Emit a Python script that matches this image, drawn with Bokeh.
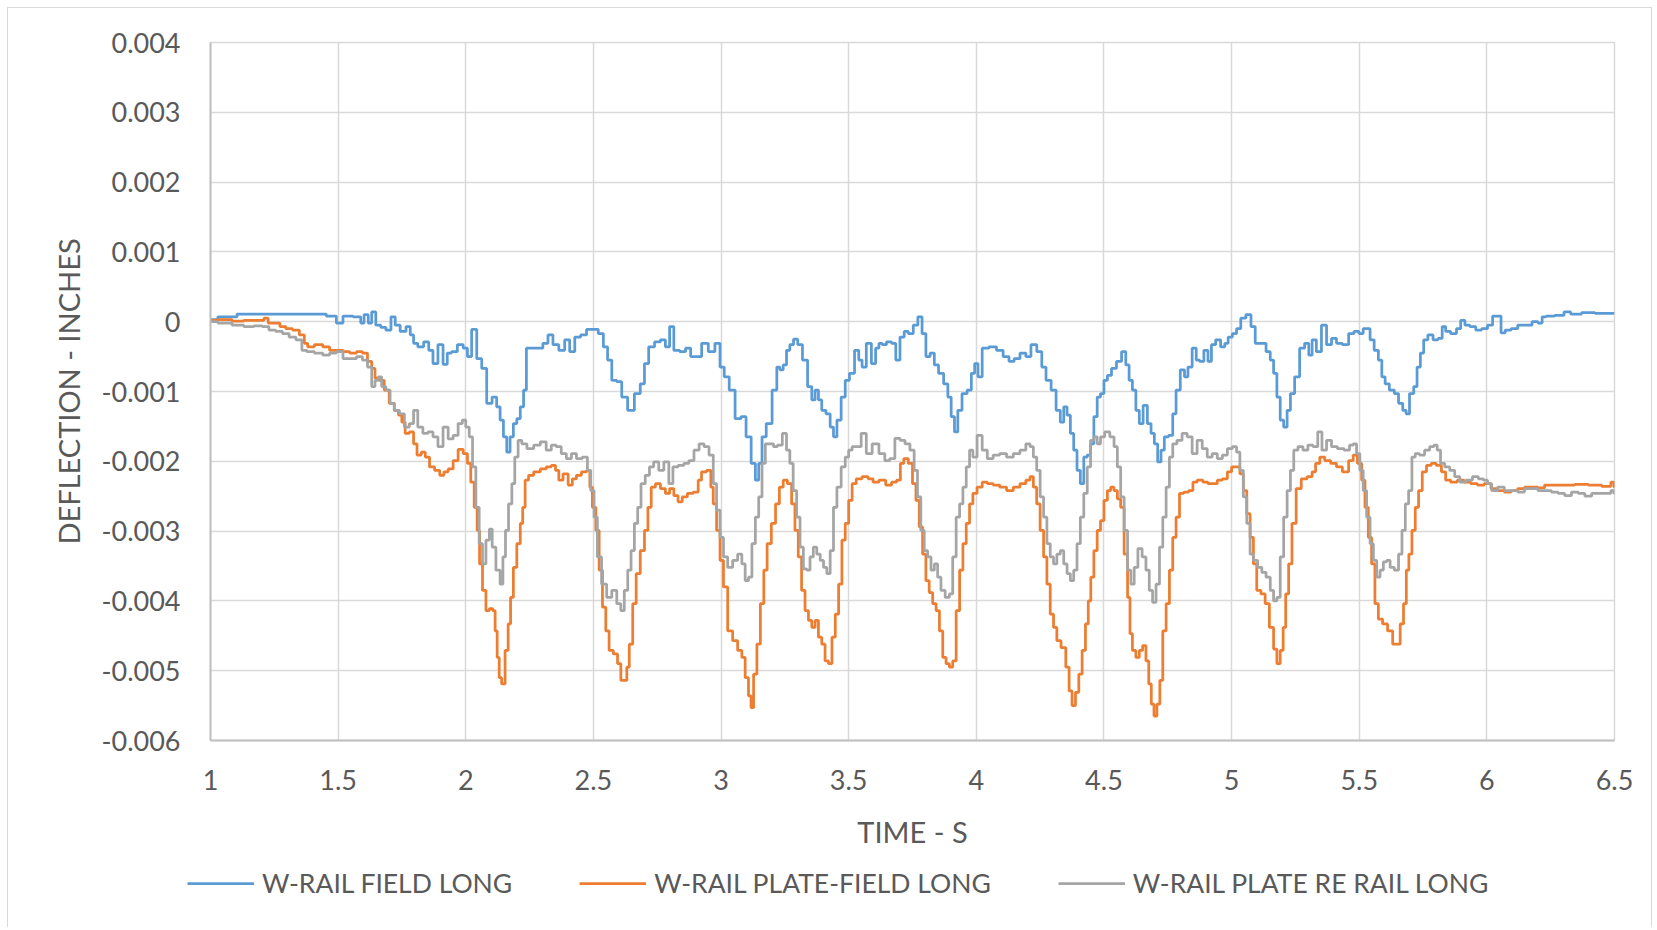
from bokeh.plotting import figure
from bokeh.layouts import column
from bokeh.models import Range1d, FixedTicker, NumeralTickFormatter, Legend, LegendItem, Spacer
from bokeh.embed import file_html
from bokeh.resources import INLINE

# ---------------- data (time in s, deflection in thousandths of an inch) ----------------
series_names = ["W-RAIL FIELD LONG", "W-RAIL PLATE-FIELD LONG", "W-RAIL PLATE RE RAIL LONG"]
series_colors = ["#5B9BD5", "#ED7D31", "#A5A5A5"]

x_ticks = [1, 1.5, 2, 2.5, 3, 3.5, 4, 4.5, 5, 5.5, 6, 6.5]
y_ticks = [0.004, 0.003, 0.002, 0.001, 0, -0.001, -0.002, -0.003, -0.004, -0.005, -0.006]

field_long = [
    (1.000, 0.03), (1.058, 0.07), (1.150, 0.11), (1.242, 0.11), (1.348, 0.11), (1.427, 0.11), (1.480, 0.08),
    (1.506, -0.02), (1.532, 0.08), (1.585, 0.07), (1.592, -0.02), (1.611, 0.10), (1.625, -0.02), (1.638, 0.14),
    (1.657, -0.05), (1.677, -0.08), (1.697, -0.12), (1.717, 0.07), (1.730, -0.05), (1.756, -0.14), (1.776, -0.07),
    (1.789, -0.19), (1.802, -0.31), (1.822, -0.36), (1.848, -0.29), (1.862, -0.41), (1.881, -0.60), (1.901, -0.33),
    (1.921, -0.61), (1.934, -0.45), (1.954, -0.43), (1.980, -0.33), (2.000, -0.38), (2.013, -0.50), (2.033, -0.11),
    (2.053, -0.53), (2.072, -0.67), (2.092, -1.17),
    (2.114, -1.08), (2.128, -1.22), (2.141, -1.41), (2.154, -1.65), (2.167, -1.87), (2.180, -1.65), (2.193, -1.46),
    (2.207, -1.39), (2.220, -1.22), (2.233, -0.98), (2.242, -0.38), (2.292, -0.38), (2.312, -0.31), (2.332, -0.19),
    (2.351, -0.33), (2.378, -0.41), (2.397, -0.26), (2.417, -0.43), (2.437, -0.22), (2.463, -0.19), (2.483, -0.11),
    (2.509, -0.11), (2.529, -0.17), (2.549, -0.36), (2.562, -0.55), (2.582, -0.84), (2.601, -0.86), (2.621, -1.08),
    (2.647, -1.27), (2.674, -1.03), (2.693, -0.89), (2.707, -0.60), (2.726, -0.36), (2.753, -0.29), (2.772, -0.26),
    (2.792, -0.36), (2.805, -0.07), (2.825, -0.41), (2.851, -0.43), (2.871, -0.38), (2.891, -0.50), (2.911, -0.50),
    (2.937, -0.31), (2.963, -0.43), (2.989, -0.31), (3.003, -0.65), (3.022, -0.79), (3.042, -0.98), (3.068, -1.39),
    (3.088, -1.36), (3.108, -1.65), (3.128, -2.03), (3.141, -2.27), (3.154, -2.03), (3.167, -1.65), (3.187, -1.46),
    (3.213, -0.98),
    (3.224, -0.65), (3.237, -0.69), (3.250, -0.62), (3.263, -0.41), (3.276, -0.33), (3.292, -0.25), (3.309, -0.33),
    (3.329, -0.55), (3.349, -0.93), (3.362, -1.12), (3.375, -0.98), (3.388, -1.12), (3.401, -1.27), (3.421, -1.32),
    (3.434, -1.51), (3.447, -1.65), (3.461, -1.41), (3.480, -1.08), (3.493, -0.84), (3.513, -0.74), (3.533, -0.41),
    (3.546, -0.55), (3.559, -0.65), (3.579, -0.31), (3.599, -0.60), (3.612, -0.38), (3.625, -0.31), (3.638, -0.33),
    (3.658, -0.29), (3.678, -0.31), (3.691, -0.55), (3.711, -0.22), (3.724, -0.14), (3.743, -0.17), (3.763, -0.05),
    (3.779, 0.07), (3.796, -0.17), (3.809, -0.50), (3.829, -0.45), (3.842, -0.62), (3.862, -0.74), (3.882, -0.89),
    (3.895, -1.08), (3.908, -1.36), (3.921, -1.58), (3.934, -1.27), (3.954, -1.03), (3.974, -0.98), (3.987, -0.74),
    (4.000, -0.60), (4.013, -0.79), (4.033, -0.38), (4.066, -0.36), (4.092, -0.41), (4.118, -0.50), (4.138, -0.57),
    (4.158, -0.53), (4.184, -0.45), (4.204, -0.50), (4.224, -0.33), (4.250, -0.43), (4.263, -0.65), (4.283, -0.84),
    (4.303, -0.98), (4.322, -1.27), (4.336, -1.44),
    (4.349, -1.22), (4.362, -1.34), (4.375, -1.60), (4.388, -1.84), (4.401, -2.13), (4.414, -2.32), (4.428, -1.94),
    (4.441, -1.91), (4.454, -1.75), (4.467, -1.36), (4.480, -1.08), (4.493, -1.03), (4.507, -0.84), (4.520, -0.77),
    (4.539, -0.67), (4.559, -0.57), (4.579, -0.43), (4.592, -0.62), (4.605, -0.84), (4.618, -0.98), (4.632, -1.27),
    (4.645, -1.46), (4.662, -1.20), (4.678, -1.46), (4.691, -1.60), (4.704, -1.75), (4.717, -2.01), (4.730, -1.84),
    (4.743, -1.65), (4.763, -1.63), (4.776, -1.32), (4.789, -0.98), (4.809, -0.69), (4.822, -0.79), (4.836, -0.65),
    (4.855, -0.38), (4.868, -0.55), (4.882, -0.57), (4.901, -0.41), (4.914, -0.57), (4.928, -0.33), (4.947, -0.26),
    (4.967, -0.36), (4.980, -0.31), (4.993, -0.22), (5.013, -0.17), (5.026, -0.10), (5.046, 0.05), (5.066, 0.10),
    (5.086, -0.07), (5.099, -0.31), (5.125, -0.31), (5.145, -0.43), (5.158, -0.55), (5.171, -0.74), (5.184, -1.08),
    (5.197, -1.41), (5.211, -1.51), (5.224, -1.27), (5.237, -1.03), (5.257, -0.79), (5.276, -0.38), (5.296, -0.31),
    (5.309, -0.48), (5.322, -0.26), (5.342, -0.43), (5.362, -0.05), (5.382, -0.33), (5.401, -0.24), (5.421, -0.31),
    (5.447, -0.33),
    (5.470, -0.17), (5.489, -0.14), (5.509, -0.17), (5.522, -0.10), (5.536, -0.10), (5.549, -0.26), (5.568, -0.41),
    (5.582, -0.55), (5.595, -0.79), (5.608, -0.89), (5.628, -0.98), (5.647, -1.03), (5.661, -1.17), (5.680, -1.27),
    (5.687, -1.32), (5.707, -1.03), (5.720, -0.93), (5.733, -0.65), (5.746, -0.45), (5.759, -0.26), (5.779, -0.19),
    (5.799, -0.26), (5.818, -0.24), (5.832, -0.07), (5.845, -0.14), (5.871, -0.17), (5.891, -0.10), (5.904, 0.02),
    (5.924, -0.05), (5.943, -0.07), (5.970, -0.12), (5.989, -0.10), (6.016, -0.05), (6.029, 0.08), (6.049, 0.08),
    (6.062, -0.16), (6.082, -0.12), (6.108, -0.10), (6.134, -0.05), (6.161, -0.05), (6.193, 0.00), (6.207, -0.02),
    (6.226, 0.07), (6.239, 0.08), (6.292, 0.09), (6.312, 0.14), (6.345, 0.11), (6.397, 0.13), (6.450, 0.12),
    (6.500, 0.12),
]

plate_field_long = [
    (1.000, 0.02), (1.058, 0.03), (1.111, 0.01), (1.150, 0.02), (1.203, 0.02), (1.216, 0.05), (1.236, -0.02),
    (1.262, -0.02), (1.282, -0.07), (1.308, -0.10), (1.335, -0.12), (1.361, -0.19), (1.374, -0.31), (1.387, -0.36),
    (1.427, -0.33), (1.453, -0.36), (1.480, -0.41), (1.506, -0.41), (1.532, -0.43), (1.559, -0.45), (1.585, -0.43),
    (1.605, -0.45), (1.625, -0.57), (1.638, -0.67), (1.651, -0.81), (1.671, -0.84), (1.690, -0.98), (1.710, -1.17),
    (1.730, -1.27), (1.743, -1.34), (1.756, -1.44), (1.769, -1.60), (1.789, -1.58), (1.802, -1.75), (1.816, -1.91),
    (1.835, -1.87), (1.848, -1.94), (1.868, -2.08), (1.888, -2.13), (1.908, -2.20), (1.921, -2.15), (1.941, -2.11),
    (1.960, -1.99), (1.980, -1.83), (2.000, -1.89), (2.013, -2.03), (2.026, -2.30), (2.040, -2.66), (2.049, -2.99),
    (2.059, -3.47), (2.072, -3.85), (2.086, -4.14), (2.099, -4.11), (2.112, -4.14),
    (2.118, -4.43), (2.128, -4.81), (2.134, -5.10), (2.147, -5.19), (2.161, -4.71), (2.171, -4.33), (2.180, -3.95),
    (2.193, -3.52), (2.207, -3.18), (2.220, -2.89), (2.226, -2.66), (2.239, -2.27), (2.253, -2.20), (2.279, -2.15),
    (2.305, -2.11), (2.325, -2.08), (2.345, -2.06), (2.358, -2.13), (2.371, -2.27), (2.391, -2.18), (2.411, -2.34),
    (2.424, -2.25), (2.443, -2.20), (2.463, -2.15), (2.483, -2.13), (2.489, -2.37), (2.503, -2.66), (2.516, -2.99),
    (2.529, -3.56), (2.542, -4.09), (2.555, -4.43), (2.568, -4.71), (2.588, -4.76), (2.601, -4.90), (2.614, -5.14),
    (2.628, -5.14), (2.634, -4.95), (2.647, -4.62), (2.661, -4.04), (2.674, -3.61), (2.693, -3.28), (2.707, -2.99),
    (2.720, -2.66), (2.733, -2.37), (2.753, -2.32), (2.772, -2.39), (2.792, -2.46), (2.805, -2.39), (2.825, -2.49),
    (2.838, -2.58), (2.858, -2.51), (2.878, -2.46), (2.904, -2.44), (2.917, -2.27), (2.930, -2.15), (2.957, -2.13),
    (2.963, -2.37), (2.976, -2.61), (2.989, -2.99), (3.003, -3.42), (3.016, -3.80), (3.036, -4.43), (3.055, -4.57),
    (3.075, -4.71), (3.088, -4.81), (3.101, -5.10), (3.114, -5.36), (3.121, -5.53), (3.134, -5.05), (3.147, -4.62),
    (3.161, -4.04), (3.174, -3.56), (3.187, -3.18), (3.207, -2.89), (3.220, -2.61),
    (3.237, -2.37), (3.250, -2.27), (3.270, -2.32), (3.283, -2.61), (3.296, -2.99), (3.309, -3.37), (3.322, -3.85),
    (3.336, -4.14), (3.349, -4.28), (3.362, -4.38), (3.375, -4.28), (3.388, -4.52), (3.401, -4.62), (3.414, -4.86),
    (3.428, -4.90), (3.441, -4.52), (3.454, -4.19), (3.467, -3.76), (3.480, -3.13), (3.493, -2.89), (3.507, -2.56),
    (3.520, -2.32), (3.539, -2.25), (3.566, -2.22), (3.586, -2.25), (3.605, -2.30), (3.632, -2.27), (3.658, -2.34),
    (3.678, -2.30), (3.697, -2.27), (3.708, -2.03), (3.724, -1.96), (3.743, -2.03), (3.757, -2.32), (3.770, -2.56),
    (3.783, -2.94), (3.796, -3.33), (3.809, -3.71), (3.822, -3.88), (3.836, -4.04), (3.849, -4.14), (3.862, -4.43),
    (3.875, -4.81), (3.888, -4.90), (3.901, -4.95), (3.914, -4.86), (3.928, -4.14), (3.941, -3.56), (3.954, -3.18),
    (3.967, -2.89), (3.980, -2.61), (3.993, -2.46), (4.013, -2.37), (4.033, -2.30), (4.053, -2.32), (4.079, -2.34),
    (4.105, -2.37), (4.132, -2.42), (4.158, -2.37), (4.184, -2.32), (4.204, -2.27), (4.217, -2.22), (4.230, -2.37),
    (4.243, -2.61), (4.257, -2.99), (4.270, -3.37), (4.283, -3.76), (4.296, -4.19), (4.309, -4.38), (4.322, -4.57),
    (4.342, -4.67),
    (4.359, -4.95), (4.368, -5.29), (4.382, -5.50), (4.395, -5.31), (4.408, -5.05), (4.421, -4.71), (4.434, -4.33),
    (4.443, -4.00), (4.454, -3.66), (4.467, -3.28), (4.480, -2.99), (4.493, -2.85), (4.507, -2.56), (4.520, -2.42),
    (4.533, -2.37), (4.546, -2.42), (4.559, -2.54), (4.572, -2.66), (4.586, -3.33), (4.599, -3.95), (4.605, -4.47),
    (4.618, -4.71), (4.632, -4.81), (4.645, -4.71), (4.658, -4.64), (4.671, -4.86), (4.680, -5.19), (4.691, -5.48),
    (4.701, -5.65), (4.714, -5.48), (4.724, -5.14), (4.737, -4.43), (4.750, -4.04), (4.763, -3.56), (4.776, -3.09),
    (4.789, -2.80), (4.803, -2.46), (4.822, -2.44), (4.842, -2.42), (4.855, -2.30), (4.875, -2.27), (4.901, -2.30),
    (4.914, -2.32), (4.934, -2.32), (4.954, -2.27), (4.974, -2.25), (4.993, -2.15), (5.007, -2.08), (5.026, -2.08),
    (5.039, -2.18), (5.053, -2.42), (5.066, -2.75), (5.079, -3.09), (5.092, -3.47), (5.105, -3.85), (5.125, -3.90),
    (5.138, -4.04), (5.158, -4.38), (5.171, -4.69), (5.184, -4.90), (5.197, -4.71), (5.207, -4.38), (5.217, -3.90),
    (5.230, -3.47), (5.243, -2.89), (5.263, -2.39), (5.283, -2.25), (5.309, -2.22), (5.322, -2.15), (5.336, -2.03),
    (5.355, -1.94), (5.375, -1.99), (5.401, -2.03), (5.421, -2.08), (5.447, -2.15),
    (5.470, -1.99), (5.483, -1.91), (5.503, -2.03), (5.516, -2.27), (5.529, -2.66), (5.542, -3.09), (5.555, -3.47),
    (5.568, -4.04), (5.582, -4.26), (5.601, -4.33), (5.621, -4.43), (5.641, -4.62), (5.654, -4.62), (5.667, -4.33),
    (5.680, -4.04), (5.689, -3.56), (5.700, -3.33), (5.713, -2.99), (5.726, -2.66), (5.739, -2.42), (5.755, -2.15),
    (5.772, -2.06), (5.792, -2.03), (5.812, -2.06), (5.832, -2.15), (5.845, -2.27), (5.871, -2.30), (5.897, -2.27),
    (5.924, -2.30), (5.950, -2.32), (5.976, -2.34), (6.003, -2.32), (6.029, -2.39), (6.055, -2.42), (6.082, -2.44),
    (6.108, -2.42), (6.134, -2.39), (6.161, -2.37), (6.187, -2.37), (6.213, -2.38), (6.239, -2.34), (6.266, -2.34),
    (6.318, -2.34), (6.371, -2.33), (6.424, -2.34), (6.476, -2.36), (6.496, -2.30), (6.500, -2.37),
]

plate_re_rail_long = [
    (1.000, 0.00), (1.058, -0.02), (1.111, -0.05), (1.150, -0.07), (1.190, -0.06), (1.216, -0.07), (1.242, -0.12),
    (1.269, -0.14), (1.295, -0.17), (1.321, -0.22), (1.348, -0.26), (1.368, -0.41), (1.387, -0.43), (1.427, -0.45),
    (1.453, -0.48), (1.480, -0.45), (1.506, -0.43), (1.532, -0.53), (1.559, -0.53), (1.585, -0.50), (1.605, -0.55),
    (1.625, -0.65), (1.638, -0.93), (1.651, -0.84), (1.664, -0.79), (1.677, -0.93), (1.697, -0.98), (1.710, -1.17),
    (1.730, -1.27), (1.750, -1.32), (1.769, -1.51), (1.789, -1.46), (1.802, -1.27), (1.822, -1.51), (1.842, -1.60),
    (1.862, -1.58), (1.881, -1.65), (1.901, -1.79), (1.921, -1.51), (1.941, -1.68), (1.960, -1.63), (1.980, -1.46),
    (1.993, -1.41), (2.007, -1.51), (2.020, -1.65), (2.033, -2.08), (2.046, -2.66), (2.059, -3.18), (2.072, -3.47),
    (2.086, -3.13), (2.099, -2.97),
    (2.108, -3.23), (2.128, -3.56), (2.141, -3.76), (2.150, -3.37), (2.161, -2.99), (2.174, -2.61), (2.187, -2.32),
    (2.197, -1.94), (2.213, -1.70), (2.226, -1.75), (2.253, -1.82), (2.279, -1.77), (2.305, -1.72), (2.325, -1.84),
    (2.345, -1.77), (2.364, -1.79), (2.384, -1.89), (2.404, -1.96), (2.424, -1.89), (2.443, -1.96), (2.470, -1.94),
    (2.483, -2.13), (2.496, -2.42), (2.509, -2.80), (2.522, -3.37), (2.542, -3.76), (2.562, -3.95), (2.582, -3.85),
    (2.601, -4.04), (2.614, -4.14), (2.628, -3.85), (2.641, -3.56), (2.654, -3.28), (2.667, -2.89), (2.680, -2.66),
    (2.693, -2.32), (2.713, -2.20), (2.726, -2.08), (2.746, -2.01), (2.766, -2.13), (2.786, -2.01), (2.805, -2.32),
    (2.818, -2.08), (2.845, -2.06), (2.864, -2.03), (2.884, -1.99), (2.904, -1.84), (2.924, -1.75), (2.943, -1.79),
    (2.963, -1.91), (2.976, -2.32), (2.989, -2.70), (3.003, -3.09), (3.016, -3.37), (3.036, -3.52), (3.055, -3.42),
    (3.075, -3.33), (3.088, -3.47), (3.101, -3.71), (3.114, -3.66), (3.128, -3.18), (3.141, -2.80), (3.154, -2.51),
    (3.167, -2.03), (3.180, -1.75), (3.200, -1.75),
    (3.211, -1.79), (3.230, -1.77), (3.250, -1.60), (3.263, -1.84), (3.276, -2.03), (3.289, -2.42), (3.303, -2.80),
    (3.316, -3.23), (3.329, -3.54), (3.342, -3.56), (3.355, -3.37), (3.368, -3.23), (3.382, -3.33), (3.395, -3.42),
    (3.408, -3.52), (3.421, -3.61), (3.434, -3.28), (3.447, -2.66), (3.461, -2.37), (3.480, -2.08), (3.493, -1.94),
    (3.507, -1.84), (3.520, -1.79), (3.539, -1.79), (3.559, -1.60), (3.579, -1.89), (3.605, -1.75), (3.632, -1.89),
    (3.651, -1.99), (3.671, -1.96), (3.691, -1.67), (3.711, -1.70), (3.730, -1.75), (3.750, -1.84), (3.763, -2.13),
    (3.776, -2.51), (3.789, -2.99), (3.803, -3.28), (3.816, -3.37), (3.829, -3.56), (3.842, -3.47), (3.855, -3.66),
    (3.868, -3.85), (3.888, -3.95), (3.901, -3.90), (3.914, -3.37), (3.928, -2.80), (3.941, -2.61), (3.954, -2.37),
    (3.967, -2.08), (3.980, -1.84), (3.993, -1.94), (4.013, -1.63), (4.033, -1.84), (4.053, -1.96), (4.079, -1.91),
    (4.105, -1.89), (4.132, -1.94), (4.158, -1.89), (4.184, -1.84), (4.204, -1.75), (4.217, -1.79), (4.230, -1.94),
    (4.243, -2.13), (4.257, -2.51), (4.270, -2.80), (4.283, -3.18), (4.296, -3.37), (4.309, -3.47), (4.322, -3.33),
    (4.336, -3.28),
    (4.349, -3.47), (4.362, -3.61), (4.375, -3.71), (4.388, -3.56), (4.401, -3.18), (4.414, -2.80), (4.428, -2.46),
    (4.441, -2.08), (4.454, -1.70), (4.467, -1.65), (4.480, -1.75), (4.493, -1.65), (4.513, -1.58), (4.533, -1.65),
    (4.546, -1.79), (4.559, -2.08), (4.572, -2.51), (4.586, -2.99), (4.599, -3.56), (4.612, -3.76), (4.625, -3.52),
    (4.641, -3.25), (4.658, -3.37), (4.671, -3.56), (4.684, -3.85), (4.697, -4.02), (4.711, -3.76), (4.724, -3.23),
    (4.737, -2.80), (4.750, -2.37), (4.763, -1.94), (4.776, -1.75), (4.796, -1.70), (4.816, -1.60), (4.836, -1.65),
    (4.855, -1.89), (4.875, -1.70), (4.895, -1.82), (4.914, -1.94), (4.934, -1.89), (4.954, -1.96), (4.974, -1.91),
    (4.993, -1.82), (5.013, -1.79), (5.026, -1.87), (5.039, -2.13), (5.053, -2.51), (5.066, -2.89), (5.079, -3.33),
    (5.092, -3.42), (5.112, -3.52), (5.125, -3.59), (5.145, -3.66), (5.158, -3.85), (5.171, -4.00), (5.184, -3.95),
    (5.197, -3.37), (5.211, -2.80), (5.224, -2.42), (5.237, -2.13), (5.250, -1.84), (5.270, -1.79), (5.289, -1.84),
    (5.309, -1.77), (5.329, -1.79), (5.346, -1.58), (5.362, -1.84), (5.382, -1.70), (5.401, -1.79), (5.428, -1.82),
    (5.454, -1.84),
    (5.470, -1.77), (5.483, -1.75), (5.496, -1.89), (5.509, -2.13), (5.522, -2.42), (5.536, -2.80), (5.549, -3.18),
    (5.562, -3.42), (5.575, -3.66), (5.588, -3.56), (5.601, -3.44), (5.614, -3.42), (5.628, -3.52), (5.647, -3.56),
    (5.661, -3.33), (5.674, -2.99), (5.687, -2.61), (5.700, -2.42), (5.713, -1.94), (5.726, -1.89), (5.746, -1.91),
    (5.766, -1.84), (5.786, -1.79), (5.799, -1.77), (5.812, -1.84), (5.825, -2.03), (5.845, -2.08), (5.864, -2.13),
    (5.884, -2.22), (5.904, -2.30), (5.930, -2.27), (5.957, -2.22), (5.976, -2.25), (5.996, -2.27), (6.009, -2.32),
    (6.029, -2.42), (6.055, -2.37), (6.082, -2.42), (6.108, -2.42), (6.134, -2.44), (6.161, -2.39), (6.187, -2.39),
    (6.213, -2.42), (6.239, -2.42), (6.266, -2.44), (6.292, -2.46), (6.318, -2.49), (6.345, -2.44), (6.371, -2.46),
    (6.397, -2.50), (6.424, -2.46), (6.450, -2.46), (6.476, -2.46), (6.496, -2.42), (6.500, -2.46),
]

# ---------------- styling ----------------
FONT = "Lato"
TXT = "#595959"
GRID = "#D9D9D9"
AXIS = "#BFBFBF"
W = 1654

p = figure(width=W, height=863, output_backend="svg", toolbar_location=None,
           x_range=Range1d(1, 6.5), y_range=Range1d(-0.006, 0.004),
           x_axis_label="TIME - S", y_axis_label="DEFLECTION - INCHES",
           min_border_left=210, min_border_right=40, min_border_top=42, min_border_bottom=123)
p.frame_align = False
p.background_fill_color = "white"
p.border_fill_color = None
p.outline_line_color = GRID
p.outline_line_width = 1.5

p.xaxis.ticker = FixedTicker(ticks=x_ticks)
p.yaxis.ticker = FixedTicker(ticks=y_ticks)
p.xaxis.formatter = NumeralTickFormatter(format="0.[0]")
p.yaxis.formatter = NumeralTickFormatter(format="0.[000]")

for ax in (p.xaxis[0], p.yaxis[0]):
    ax.axis_line_color = AXIS
    ax.axis_line_width = 2
    ax.major_tick_line_color = None
    ax.minor_tick_line_color = None
    ax.major_tick_out = 0
    ax.major_tick_in = 0
    ax.major_label_text_font = FONT
    ax.major_label_text_font_size = "27px"
    ax.major_label_text_color = TXT
    ax.axis_label_text_font = FONT
    ax.axis_label_text_font_size = "29px"
    ax.axis_label_text_color = TXT
    ax.axis_label_text_font_style = "normal"

p.xaxis.major_label_standoff = 29
p.xaxis.axis_label_standoff = 21
p.yaxis.major_label_standoff = 30
p.yaxis.axis_label_standoff = 12

for g in (p.xgrid[0], p.ygrid[0]):
    g.grid_line_color = GRID
    g.grid_line_width = 1.5

for data, color in zip([field_long, plate_field_long, plate_re_rail_long], series_colors):
    t = [d[0] for d in data]
    y = [d[1] / 1000.0 for d in data]
    p.step(t, y, mode="center", line_color=color, line_width=2.75)

# legend strip underneath (its own small figure so the legend is never clipped by the plot frame)
leg_fig = figure(width=W, height=40, output_backend="svg", toolbar_location=None,
                 x_axis_type=None, y_axis_type=None, min_border=0,
                 x_range=Range1d(0, 1), y_range=Range1d(0, 1))
leg_fig.frame_align = False
leg_fig.background_fill_color = None
leg_fig.border_fill_color = None
leg_fig.outline_line_color = None
leg_fig.grid.visible = False
# off-range stand-in glyphs that only serve as legend keys
dummies = [leg_fig.line(x=[5, 6], y=[5, 5], line_color=c, line_width=2.75) for c in series_colors]

legend = Legend(items=[LegendItem(label=n, renderers=[r]) for n, r in zip(series_names, dummies)],
                orientation="horizontal", location="left",
                glyph_width=67, glyph_height=20, label_standoff=8, spacing=67,
                padding=0, margin=187, border_line_color=None, background_fill_alpha=0,
                label_text_font=FONT, label_text_font_size="26.5px", label_text_color=TXT)
leg_fig.add_layout(legend, "center")

layout = column(p, leg_fig, Spacer(width=W, height=24), spacing=0)
layout.styles = {
    "background-image": "linear-gradient(#D9D9D9, #D9D9D9), linear-gradient(#D9D9D9, #D9D9D9), "
                        "linear-gradient(#D9D9D9, #D9D9D9)",
    "background-size": "1px 100%, 1645px 1px, 1px 100%",
    "background-position": "7px 7px, 7px 7px, 1651px 7px",
    "background-repeat": "no-repeat",
}

open("out.html", "w").write(file_html(layout, INLINE))
